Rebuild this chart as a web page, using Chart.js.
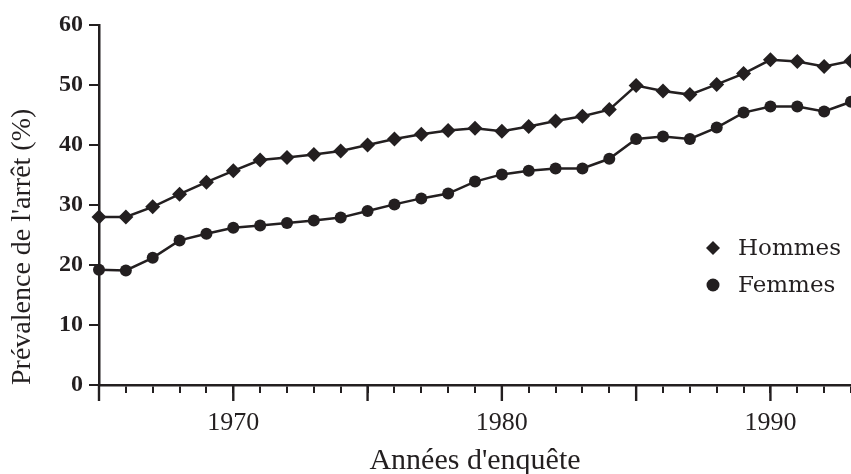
<!DOCTYPE html>
<html>
<head>
<meta charset="utf-8">
<script src="https://cdn.jsdelivr.net/npm/chart.js@4/dist/chart.umd.min.js"></script>
<style>
    html, body { margin: 0; padding: 0; background: #fff; }
    #wrap { width: 851px; height: 474px; position: relative; }
</style>
</head>
<body>
<div id="wrap"><canvas id="chart"></canvas></div>
<script>
/**
 * 数据
 */
var years = [1965, 1966, 1967, 1968, 1969, 1970, 1971, 1972, 1973, 1974,
    1975, 1976, 1977, 1978, 1979, 1980, 1981, 1982, 1983, 1984,
    1985, 1986, 1987, 1988, 1989, 1990, 1991, 1992, 1993];
var hommes = [28, 28, 29.7, 31.8, 33.8, 35.7, 37.5, 37.9, 38.4, 39,
    40, 41, 41.8, 42.4, 42.8, 42.3, 43.1, 44, 44.8, 45.9,
    49.9, 49, 48.4, 50.1, 51.9, 54.2, 53.9, 53.1, 54];
var femmes = [19.2, 19.1, 21.2, 24.1, 25.2, 26.2, 26.6, 27, 27.4, 27.9,
    29, 30.1, 31.1, 31.9, 33.9, 35.1, 35.7, 36.1, 36.1, 37.7,
    41, 41.4, 41, 42.9, 45.4, 46.4, 46.4, 45.6, 47.2];
var yTicks = [0, 10, 20, 30, 40, 50, 60];
var xLabelYears = [1970, 1980, 1990];

var ink = '#231f20';

function toPoints(vals) {
    return years.map(function (yr, i) { return { x: yr, y: vals[i] }; });
}

//长刻度 + 图例
var extras = {
    id: 'extras',
    afterDraw: function (chart) {
        var ctx = chart.ctx;
        var xs = chart.scales.x, ys = chart.scales.y;
        ctx.save();
        ctx.strokeStyle = ink;
        ctx.lineWidth = 2.4;
        years.forEach(function (yr) {
            if (yr % 5 !== 0) return;
            var px = xs.getPixelForValue(yr);
            ctx.beginPath();
            ctx.moveTo(px, ys.bottom);
            ctx.lineTo(px, ys.bottom + 16);
            ctx.stroke();
        });

        //图例
        var items = chart.data.datasets;
        ctx.fillStyle = ink;
        ctx.font = '23px "DejaVu Serif"';
        ctx.textBaseline = 'middle';
        ctx.textAlign = 'left';
        var lx = 713, ly = 248, gap = 37;
        items.forEach(function (ds, i) {
            var cy = ly + i * gap;
            ctx.beginPath();
            if (ds.pointStyle === 'rectRot') {
                ctx.moveTo(lx - 7, cy);
                ctx.lineTo(lx, cy - 7);
                ctx.lineTo(lx + 7, cy);
                ctx.lineTo(lx, cy + 7);
                ctx.closePath();
            } else {
                ctx.arc(lx, cy, 6.5, 0, Math.PI * 2);
            }
            ctx.fill();
            ctx.fillText(ds.label, lx + 25, cy + 1);
        });
        ctx.restore();
    }
};

var ctx = document.getElementById('chart').getContext('2d');
window.myChart = new Chart(ctx, {
    type: 'line',
    data: {
        datasets: [{
            label: 'Hommes',
            data: toPoints(hommes),
            borderColor: ink,
            borderWidth: 2.5,
            pointStyle: 'rectRot',
            pointRadius: 7.5,
            pointBorderWidth: 0,
            pointBackgroundColor: ink,
            lineTension: 0,
            clip: false
        }, {
            label: 'Femmes',
            data: toPoints(femmes),
            borderColor: ink,
            borderWidth: 2.5,
            pointStyle: 'circle',
            pointRadius: 6,
            pointBorderWidth: 0,
            pointBackgroundColor: ink,
            lineTension: 0,
            clip: false
        }]
    },
    options: {
        responsive: true,
        maintainAspectRatio: false,
        animation: false,
        layout: { autoPadding: false, padding: { top: 25, right: 0, left: 0, bottom: 0 } },
        plugins: {
            legend: { display: false },
            tooltip: { enabled: false }
        },
        scales: {
            x: {
                type: 'linear',
                min: years[0],
                max: years[years.length - 1],
                afterFit: function (s) {
                    s.height = 89;
                    s.paddingLeft = 0;
                    s.paddingRight = 0;
                },
                afterBuildTicks: function (s) {
                    s.ticks = years.map(function (yr) { return { value: yr }; });
                },
                border: { display: true, color: ink, width: 2.5 },
                grid: { drawOnChartArea: false, drawTicks: true, tickLength: 8, color: ink, lineWidth: 2 },
                ticks: {
                    autoSkip: false,
                    maxRotation: 0,
                    padding: 15,
                    color: ink,
                    font: { family: '"Liberation Serif"', size: 26 },
                    callback: function (v) { return xLabelYears.indexOf(v) >= 0 ? String(v) : ''; }
                },
                title: {
                    display: true,
                    text: "Années d'enquête",
                    color: ink,
                    padding: 0,
                    font: { family: '"Liberation Serif"', size: 30, lineHeight: 0.85 }
                }
            },
            y: {
                min: 0,
                max: 60,
                afterFit: function (s) { s.width = 99; },
                afterBuildTicks: function (s) {
                    s.ticks = yTicks.map(function (v) { return { value: v }; });
                },
                border: { display: true, color: ink, width: 2.5 },
                grid: { drawOnChartArea: false, drawTicks: true, tickLength: 10, color: ink, lineWidth: 2 },
                ticks: {
                    padding: 6,
                    color: ink,
                    font: { family: '"Liberation Serif"', size: 24, weight: 'bold' }
                },
                title: {
                    display: true,
                    text: "Prévalence de l'arrêt (%)",
                    align: 'start',
                    color: ink,
                    padding: { top: 9 },
                    font: { family: '"Liberation Serif"', size: 28, lineHeight: 1 }
                }
            }
        }
    },
    plugins: [extras]
});
</script>
</body>
</html>
